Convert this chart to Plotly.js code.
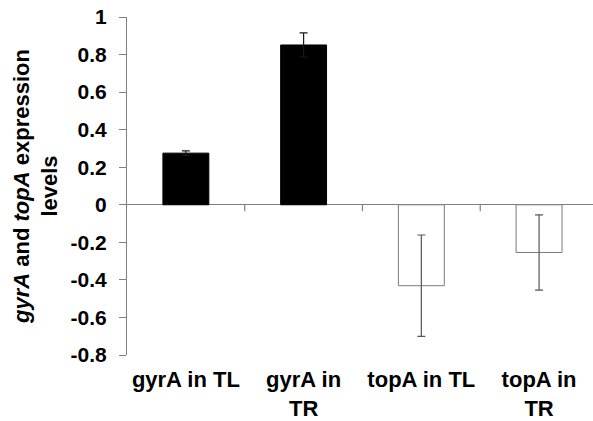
<!DOCTYPE html>
<html>
<head>
<meta charset="utf-8">
<script src="https://cdn.plot.ly/plotly-3.0.1.min.js"></script>
<style>html,body{margin:0;padding:0;background:#fff;}</style>
</head>
<body>
<div id="chart" style="width:593px;height:421px;"></div>
<script>
// Data
const categories = ["gyrA in TL", "gyrA in<br>TR", "topA in TL", "topA in<br>TR"];
const gyrCategories = ["gyrA in TL", "gyrA in<br>TR"];
const gyrValues = [0.275, 0.851];
const gyrErrors = [0.012, 0.064];
const topCategories = ["topA in TL", "topA in<br>TR"];
const topValues = [-0.431, -0.254];
const topErrors = [0.27, 0.2];
const yTickVals = [-0.8, -0.6, -0.4, -0.2, 0, 0.2, 0.4, 0.6, 0.8, 1];
const yTickText = ["-0.8", "-0.6", "-0.4", "-0.2", "0", "0.2", "0.4", "0.6", "0.8", "1"];

const FONT = "Liberation Sans, Arial, sans-serif";
const AXIS_GRAY = "#7f7f7f";
const X_RANGE = [-0.5, 3.458];
const yMin = -0.8, yMax = 1;
const TICK_DEPTH = 0.034; // length of the small boundary ticks, in y units (~6 px)

const traces = [
  {
    type: "bar", x: gyrCategories, y: gyrValues, width: 0.39,
    marker: {color: "#000000", line: {color: "#000000", width: 1}},
    error_y: {type: "data", array: gyrErrors, visible: true, color: "#1a1a1a", thickness: 1.2, width: 4},
    hoverinfo: "skip"
  },
  {
    type: "bar", x: topCategories, y: topValues, width: 0.39,
    marker: {color: "#ffffff", line: {color: "#7a7a7a", width: 1}},
    error_y: {type: "data", array: topErrors, visible: true, color: "#555555", thickness: 1.2, width: 4},
    hoverinfo: "skip"
  }
];

// small tick marks on the zero line at the category boundaries
const boundaryShapes = categories.slice(0, -1).map((c, i) => ({
  type: "line", layer: "above",
  xref: "x", yref: "y",
  x0: i + 0.5, x1: i + 0.5,
  y0: 0, y1: -TICK_DEPTH,
  line: {color: AXIS_GRAY, width: 1.2}
}));

const layout = {
  width: 593, height: 421,
  margin: {l: 127, r: 0, t: 17, b: 66},
  paper_bgcolor: "#ffffff", plot_bgcolor: "#ffffff",
  showlegend: false,
  barmode: "overlay",
  font: {family: FONT, color: "#000000", size: 21, weight: "bold"},
  shapes: boundaryShapes,
  xaxis: {
    type: "category", categoryorder: "array", categoryarray: categories,
    range: X_RANGE,
    showline: false, ticks: "", showgrid: false, zeroline: false,
    tickfont: {family: FONT, size: 22, weight: "bold", color: "#000"},
    ticklabelstandoff: 9,
    automargin: false
  },
  yaxis: {
    range: [yMin, yMax],
    tickmode: "array", tickvals: yTickVals, ticktext: yTickText,
    showline: true, linecolor: AXIS_GRAY, linewidth: 1,
    ticks: "outside", ticklen: 7, tickcolor: AXIS_GRAY, tickwidth: 1,
    showgrid: false,
    zeroline: true, zerolinecolor: AXIS_GRAY, zerolinewidth: 1,
    tickfont: {family: FONT, size: 21, weight: "bold", color: "#000"},
    ticklabelstandoff: 8,
    automargin: false,
    title: {
      text: "<i>gyrA</i> and <i>topA</i> expression<br>levels",
      font: {family: FONT, size: 22, weight: "bold", color: "#000"},
      standoff: 6
    }
  }
};

Plotly.newPlot("chart", traces, layout, {staticPlot: true, displayModeBar: false});
</script>
</body>
</html>
